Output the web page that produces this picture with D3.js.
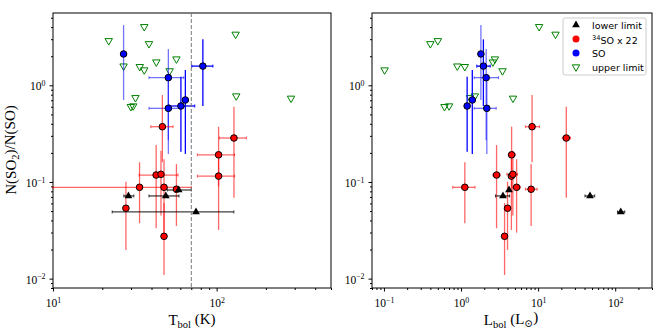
<!DOCTYPE html>
<html lang="en">
<head>
<meta charset="UTF-8" />
<title>SO2/SO ratio vs Tbol and Lbol</title>
<script src="https://d3js.org/d3.v7.min.js"></script>
<style>
  body { margin: 0; background: #fff; }
  svg { display: block; }
</style>
</head>
<body>
<script>
// 34SO x 22 detections
const redTbol   = [46.6, 127.6, 102.8, 102.8, 42.7, 45.7, 33.8, 47.7, 56.8, 27.9, 47.7];
const redTbolLo = [39.6, 104.0, 76.2, 76.2, 33.6, 45.7, 10.0, 47.7, 56.8, 27.9, 47.7];
const redTbolHi = [54.2, 152.0, 128.8, 128.8, 58.1, 45.7, 70.0, 47.7, 56.8, 27.9, 47.7];
const redLbol   = [8.35, 23.2, 4.53, 4.5, 2.89, 4.7, 1.12, 5.26, 8.11, 4.01, 3.67];
const redLbolLo = [6.83, 20.6, 4.13, 4.2, 2.59, 3.94, 0.78, 4.58, 6.83, 3.8, 3.45];
const redLbolHi = [10.4, 26.4, 5.06, 4.9, 3.22, 5.42, 1.52, 5.87, 9.7, 4.25, 3.9];
const redRatio   = [0.373, 0.285, 0.191, 0.115, 0.118, 0.120, 0.0881, 0.0881, 0.0841, 0.0535, 0.0274];
const redRatioLo = [0.16, 0.0688, 0.09, 0.0319, 0.0332, 0.045, 0.0374, 0.0299, 0.0351, 0.0198, 0.0109];
const redRatioHi = [0.794, 0.601, 0.373, 0.20, 0.241, 0.21, 0.160, 0.172, 0.153, 0.1007, 0.0607];

// SO detections
const soTbol   = [27.0, 82.4, 50.7, 64.4, 60.5, 50.7];
const soTbolLo = [27.0, 70.5, 38.6, 64.4, 51.6, 38.6];
const soTbolHi = [27.0, 94.9, 63.0, 64.4, 73.5, 59.4];
const soLbol   = [1.81, 1.95, 2.12, 1.40, 1.20, 2.16];
const soLbolLo = [1.81, 1.60, 1.48, 1.40, 1.20, 1.48];
const soLbolHi = [1.81, 2.39, 3.06, 1.40, 1.20, 2.86];
const soRatio   = [2.11, 1.58, 1.20, 0.705, 0.611, 0.578];
const soRatioLo = [0.705, 0.611, 0.27, 0.195, 0.206, 0.195];
const soRatioHi = [4.2, 2.99, 2.37, 1.44, 1.23, 1.13];

// lower limits
const llTbol   = [28.9, 48.9, 58.6, 74.8];
const llTbolLo = [27.1, 38.6, 50.0, 23.0];
const llTbolHi = [31.2, 58.9, 70.0, 127.4];
const llLbol   = [3.50, 47.1, 4.19, 118];
const llLbolLo = [2.80, 40.5, 4.19, 107];
const llLbolHi = [4.26, 54.2, 4.19, 133];
const llRatio  = [0.0717, 0.0717, 0.0826, 0.049];

// upper limits
const ulTbol  = [36.1, 130.6, 21.9, 38.6, 56.8, 42.8, 27.0, 33.9, 36.1, 51.6, 131.8, 31.9, 285, 30.9, 29.9];
const ulLbol  = [10.3, 16.8, 0.50, 0.40, 2.75, 2.59, 0.895, 1.12, 0.102, 3.45, 1.51, 1.31, 4.72, 0.70, 0.61];
const ulRatio = [4.04, 3.37, 2.89, 2.69, 1.87, 1.74, 1.58, 1.56, 1.44, 1.41, 0.775, 0.744, 0.734, 0.611, 0.601];

const tbolCut = 70;
const legendLabels = ["lower limit", "34SO x 22", "SO", "upper limit"];

// --- layout ---
const W = 664, H = 332;
const yTop = 13, yBottom = 288;
const serif = "'Liberation Serif', 'DejaVu Serif', serif";
const sans = "'DejaVu Sans', sans-serif";
const soFaint = [true, false, true, false, false, true];

const svg = d3.select("body").append("svg").attr("width", W).attr("height", H);
svg.append("rect").attr("width", W).attr("height", H).attr("fill", "#fff");

const y = d3.scaleLog().domain([0.008, 5.6]).range([yBottom, yTop]);
const xT = d3.scaleLog().domain([10, 500]).range([53, 331]);
const xL = d3.scaleLog().domain([0.07, 300]).range([372, 652]);

const isMajor = d => Math.abs(Math.log10(d) - Math.round(Math.log10(d))) < 1e-6;

function powLabel(sel) {
  sel.each(function (d) {
    const t = d3.select(this);
    const e = Math.round(Math.log10(d));
    t.text(null);
    t.append("tspan").text("10");
    t.append("tspan").attr("dy", "-0.55em").attr("font-size", "0.68em")
      .text(e < 0 ? "\u2212" + (-e) : e);
  });
}

function drawAxes(x) {
  const [x0, x1] = x.range();
  const xt = x.ticks(), yt = y.ticks();

  const gxm = svg.append("g").attr("transform", `translate(0,${yBottom})`)
    .call(d3.axisBottom(x).tickValues(xt.filter(d => !isMajor(d))).tickSize(2).tickFormat(""));
  const gx = svg.append("g").attr("transform", `translate(0,${yBottom})`)
    .call(d3.axisBottom(x).tickValues(xt.filter(isMajor)).tickSize(3.5).tickPadding(5).tickFormat(() => ""));
  gx.selectAll(".tick text").attr("font-family", serif).attr("font-size", 11.5).attr("dy", "0.95em").call(powLabel);

  const gym = svg.append("g").attr("transform", `translate(${x0},0)`)
    .call(d3.axisLeft(y).tickValues(yt.filter(d => !isMajor(d))).tickSize(2).tickFormat(""));
  const gy = svg.append("g").attr("transform", `translate(${x0},0)`)
    .call(d3.axisLeft(y).tickValues(yt.filter(isMajor)).tickSize(3.5).tickPadding(4).tickFormat(() => ""));
  gy.selectAll(".tick text").attr("font-family", serif).attr("font-size", 11.5).attr("dy", "0.4em").call(powLabel);

  [gxm, gx, gym, gy].forEach(g => g.select(".domain").remove());

  svg.append("rect").attr("x", x0).attr("y", yTop)
    .attr("width", x1 - x0).attr("height", yBottom - yTop)
    .attr("fill", "none").attr("stroke", "#000").attr("stroke-width", 1);
}

function errBars(g, x, xs, xlo, xhi, ys, ylo, yhi, color, opac) {
  xs.forEach((v, i) => {
    const op = typeof opac === "function" ? opac(i) : opac;
    const cy = y(ys[i]);
    if (ylo[i] < yhi[i]) {
      g.append("line").attr("x1", x(v)).attr("x2", x(v))
        .attr("y1", y(ylo[i])).attr("y2", y(yhi[i]))
        .attr("stroke", color).attr("stroke-opacity", op).attr("stroke-width", 1.3);
    }
    if (xlo[i] < xhi[i]) {
      g.append("line").attr("x1", x(xlo[i])).attr("x2", x(xhi[i]))
        .attr("y1", cy).attr("y2", cy)
        .attr("stroke", color).attr("stroke-opacity", op).attr("stroke-width", 1.3);
      [xlo[i], xhi[i]].forEach(e => {
        g.append("line").attr("x1", x(e)).attr("x2", x(e))
          .attr("y1", cy - 1.5).attr("y2", cy + 1.5)
          .attr("stroke", color).attr("stroke-opacity", op).attr("stroke-width", 1);
      });
    }
  });
}

const triUp = d3.symbol().type(d3.symbolTriangle).size(26);
const triDown = d3.symbol().type(d3.symbolTriangle).size(24);

function drawPanel(x, redX, redLo, redHi, soX, soLo, soHi, llX, llLo, llHi, ulX) {
  drawAxes(x);
  const g = svg.append("g");

  // upper limits (open green, pointing down)
  g.selectAll(".ul").data(ulX).join("path")
    .attr("d", triDown)
    .attr("transform", (d, i) => `translate(${x(d)},${y(ulRatio[i])}) rotate(180)`)
    .attr("fill", "none").attr("stroke", "#008000").attr("stroke-width", 1);

  errBars(g, x, soX, soLo, soHi, soRatio, soRatioLo, soRatioHi, "#0000ff", i => soFaint[i] ? 0.55 : 1);
  errBars(g, x, redX, redLo, redHi, redRatio, redRatioLo, redRatioHi, "#ff0000", 0.6);
  errBars(g, x, llX, llLo, llHi, llRatio, llRatio, llRatio, "#000", 0.75);

  g.selectAll(".so").data(soX).join("circle")
    .attr("cx", d => x(d)).attr("cy", (d, i) => y(soRatio[i])).attr("r", 3.3)
    .attr("fill", "#0000ff").attr("stroke", "#000").attr("stroke-width", 1);
  g.selectAll(".red").data(redX).join("circle")
    .attr("cx", d => x(d)).attr("cy", (d, i) => y(redRatio[i])).attr("r", 3.3)
    .attr("fill", "#ff0000").attr("stroke", "#000").attr("stroke-width", 1);
  g.selectAll(".ll").data(llX).join("path")
    .attr("d", triUp)
    .attr("transform", (d, i) => `translate(${x(d)},${y(llRatio[i])})`)
    .attr("fill", "#000");
}

drawPanel(xT, redTbol, redTbolLo, redTbolHi, soTbol, soTbolLo, soTbolHi, llTbol, llTbolLo, llTbolHi, ulTbol);
drawPanel(xL, redLbol, redLbolLo, redLbolHi, soLbol, soLbolLo, soLbolHi, llLbol, llLbolLo, llLbolHi, ulLbol);

// Tbol cut
svg.append("line").attr("x1", xT(tbolCut)).attr("x2", xT(tbolCut))
  .attr("y1", yTop).attr("y2", yBottom)
  .attr("stroke", "#777").attr("stroke-width", 1).attr("stroke-dasharray", "4,2");

// axis titles
const yl = svg.append("text").attr("transform", "translate(16,150) rotate(-90)")
  .attr("text-anchor", "middle").attr("font-family", serif).attr("font-size", 15);
yl.append("tspan").text("N(SO");
yl.append("tspan").attr("dy", "0.3em").attr("font-size", "0.7em").text("2");
yl.append("tspan").attr("dy", "-0.3em").text(")/N(SO)");

const xlT = svg.append("text").attr("x", 192).attr("y", 325)
  .attr("text-anchor", "middle").attr("font-family", serif).attr("font-size", 15);
xlT.append("tspan").text("T");
xlT.append("tspan").attr("dy", "0.3em").attr("font-size", "0.7em").text("bol");
xlT.append("tspan").attr("dy", "-0.3em").text(" (K)");

const xlL = svg.append("text").attr("x", 511).attr("y", 325)
  .attr("text-anchor", "middle").attr("font-family", serif).attr("font-size", 15);
xlL.append("tspan").text("L");
xlL.append("tspan").attr("dy", "0.3em").attr("font-size", "0.7em").text("bol");
xlL.append("tspan").attr("dy", "-0.3em").text(" (L");
xlL.append("tspan").attr("dy", "0.3em").attr("font-size", "0.7em").text("\u2299");
xlL.append("tspan").attr("dy", "-0.3em").text(")");

// legend
const lg = svg.append("g").attr("transform", "translate(563,18)");
lg.append("rect").attr("width", 83).attr("height", 57).attr("rx", 2)
  .attr("fill", "#fff").attr("stroke", "#ccc").attr("stroke-width", 1);
const rowY = i => 7 + i * 14;
lg.append("path").attr("d", triUp).attr("transform", `translate(13,${rowY(0)})`).attr("fill", "#000");
lg.append("circle").attr("cx", 13).attr("cy", rowY(1)).attr("r", 3.5).attr("fill", "#ff0000");
lg.append("circle").attr("cx", 13).attr("cy", rowY(2)).attr("r", 3.5).attr("fill", "#0000ff");
lg.append("path").attr("d", triDown).attr("transform", `translate(13,${rowY(3)}) rotate(180)`)
  .attr("fill", "none").attr("stroke", "#008000");
legendLabels.forEach((t, i) => {
  const tx = lg.append("text").attr("x", 29).attr("y", rowY(i) + 3.5)
    .attr("font-family", sans).attr("font-size", 9.5).attr("fill", "#000");
  if (t.startsWith("34")) {
    tx.append("tspan").attr("dy", "-0.4em").attr("font-size", "0.7em").text("34");
    tx.append("tspan").attr("dy", "0.4em").text(t.slice(2));
  } else {
    tx.text(t);
  }
});
</script>
</body>
</html>
